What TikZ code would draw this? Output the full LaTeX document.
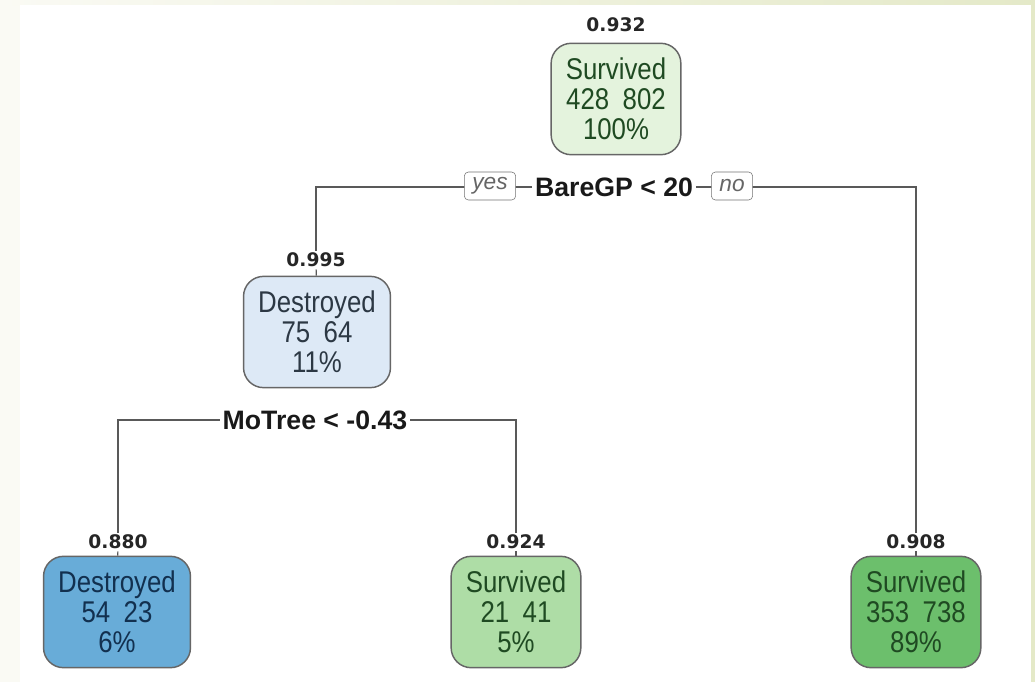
\documentclass[tikz,border=0pt]{standalone}
\usepackage{fontspec}
\setmainfont{Liberation Sans}
\newfontfamily\wktfont{DejaVu Sans}
\newfontfamily\knotenfont[FakeStretch=0.86]{Liberation Sans}
\usetikzlibrary{backgrounds}
\definecolor{RandHell}{HTML}{FAFAF4}
\definecolor{RandGruen}{HTML}{E4E9C8}
\definecolor{GruenA}{HTML}{E4F3DD}
\definecolor{GruenB}{HTML}{AEDDA6}
\definecolor{GruenC}{HTML}{6CBF6C}
\definecolor{BlauA}{HTML}{DDE9F6}
\definecolor{BlauB}{HTML}{68ACD8}
\definecolor{TextGruen}{HTML}{1F4A22}
\definecolor{TextBlau}{HTML}{12304F}
\definecolor{TextGrau}{HTML}{2C3844}
\tikzset{
  Knoten/.style 2 args={draw=black!60, line width=1.1pt, rounded corners=15pt,
    fill=#1, text=#2, align=center, inner xsep=11pt, inner ysep=11pt,
    font=\knotenfont\fontsize{22.5}{22.5}\selectfont}, % Entscheidungsknoten
  Wkt/.style={font=\wktfont\bfseries\fontsize{14}{16}\selectfont,
    text=black!85, inner sep=1.5pt}, % Wahrscheinlichkeit ueber dem Knoten
  Regel/.style={font=\bfseries\fontsize{20}{24}\selectfont, text=black!90,
    inner xsep=2pt, inner ysep=1pt}, % Teilungsregel
  JaNein/.style={draw=black!55, fill=white, rounded corners=3pt,
    font=\itshape\fontsize{17}{18}\selectfont, text=black!60,
    inner xsep=6pt, inner ysep=1pt, minimum height=21pt}
}
\newcommand{\zz}[2]{#1\hspace{0.45em}#2}

\begin{document}
\begin{tikzpicture}[x=0.75pt, y=-0.75pt,
Ast/.style={draw=black!65, line width=0.9pt}
]
\useasboundingbox (0,0) rectangle (1035,682);

%Knoten
\node[Knoten={GruenA}{TextGruen}] (K1) at (616,99) {Survived\\\zz{428}{802}\\100\%};
\node[Knoten={BlauA}{TextGrau}] (K2) at (317,332) {Destroyed\\\zz{75}{64}\\11\%};
\node[Knoten={BlauB}{TextBlau}] (K4) at (117,612) {Destroyed\\\zz{54}{23}\\6\%};
\node[Knoten={GruenB}{TextGruen}] (K5) at (516,612) {Survived\\\zz{21}{41}\\5\%};
\node[Knoten={GruenC}{TextGruen}] (K3) at (916,612) {Survived\\\zz{353}{738}\\89\%};

%Wahrscheinlichkeiten
\node[Wkt] (W1) at (616,25) {0.932};
\node[Wkt] (W2) at (316,260) {0.995};
\node[Wkt] (W4) at (118,542) {0.880};
\node[Wkt] (W5) at (516,542) {0.924};
\node[Wkt] (W3) at (916,542) {0.908};

%Regeln
\node[Regel] (R1) at (614,187) {BareGP < 20};
\node[Regel] (R2) at (315,420) {MoTree < -0.43};
\node[JaNein] (Ja) at (490,186) {yes};
\node[JaNein] (Nein) at (732,186) {no};

\begin{scope}[on background layer]
%Hintergrund
\fill[RandHell] (0,0) rectangle (1035,682);
\shade[left color=RandHell, right color=RandGruen] (0,0) rectangle (1035,5);
\fill[RandGruen] (1031,5) rectangle (1035,682);
\fill[white] (20,5) rectangle (1031,682);

%Aeste
\draw[Ast] (R1) -| (W2);
\draw[Ast] (R1) -| (W3);
\draw[Ast] (W2) -- (K2);
\draw[Ast] (W3) -- (K3);

\draw[Ast] (R2) -| (W4);
\draw[Ast] (R2) -| (W5);
\draw[Ast] (W4) -- (K4);
\draw[Ast] (W5) -- (K5);
\end{scope}

\end{tikzpicture}
\end{document}
